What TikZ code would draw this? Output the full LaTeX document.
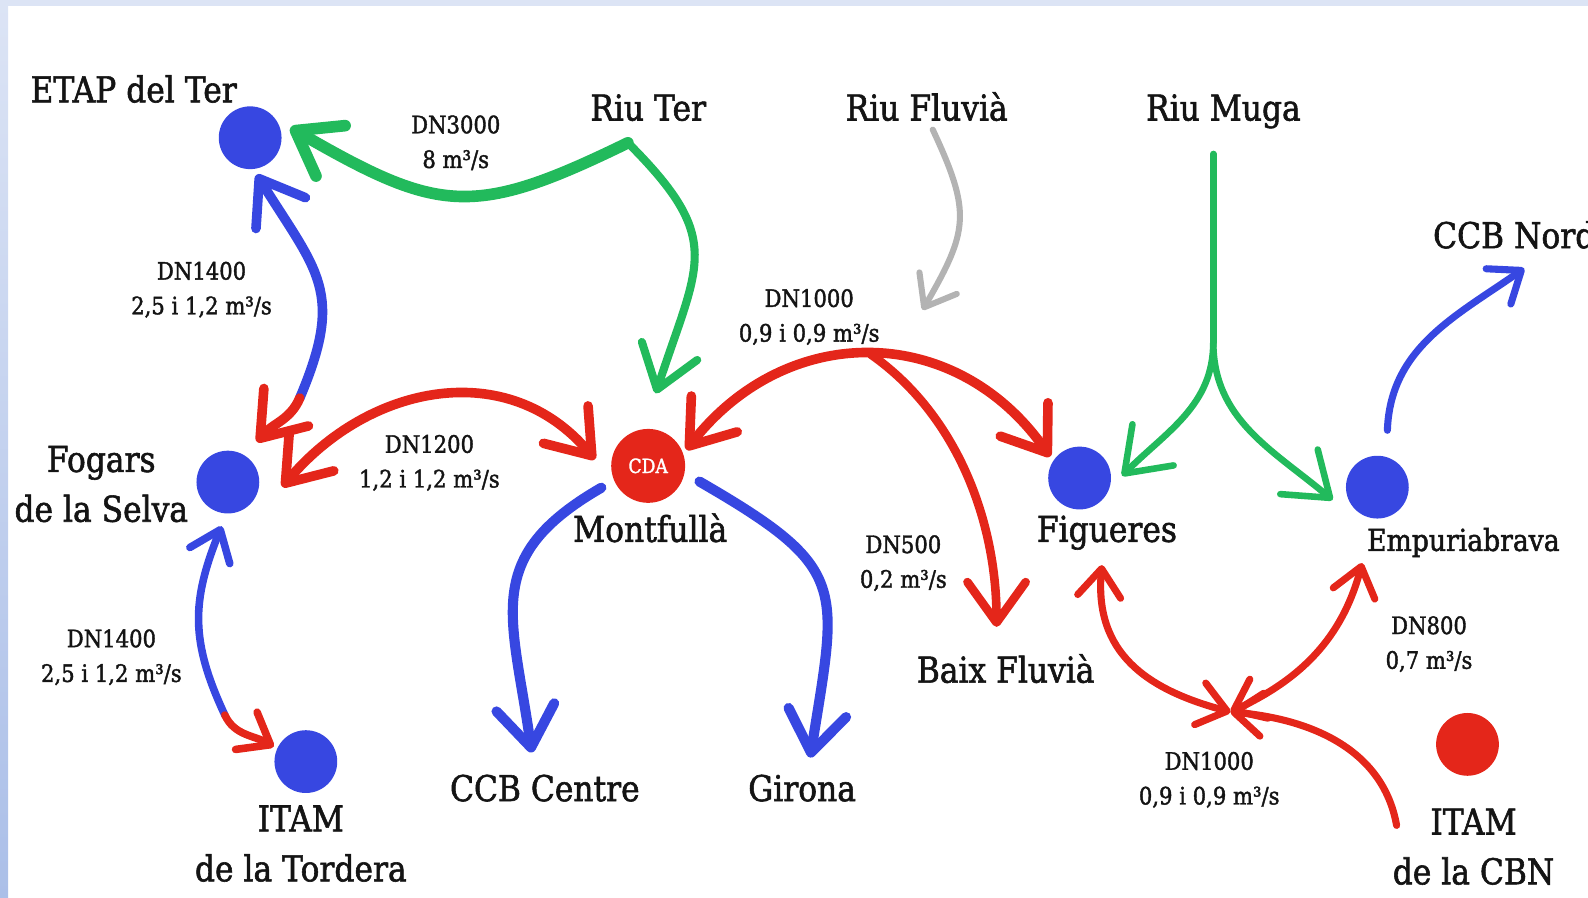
\documentclass[tikz,border=0pt]{standalone}
\usepackage{fontspec}
\setmainfont{DejaVu Serif}[FakeStretch=0.88,FakeBold=1.6]
\usetikzlibrary{arrows.meta,positioning,calc}
\definecolor{cBlue}{HTML}{3747E1}
\definecolor{cRed}{HTML}{E4261A}
\definecolor{cGreen}{HTML}{22BA5C}
\definecolor{cGrayL}{HTML}{B3B3B3}
\definecolor{cInk}{HTML}{141414}
\definecolor{cBandT}{HTML}{DCE4F5}
\definecolor{cBandB}{HTML}{ABBFE8}
\tikzset{
  place/.style={font=\fontsize{20}{28}\selectfont,text=cInk,align=center,inner sep=1pt},
  dn/.style={font=\fontsize{13.5}{19.5}\selectfont,text=cInk,align=center,inner sep=1pt},
  site/.style={circle,fill=#1,minimum size=1.24cm,inner sep=0pt},
  site/.default=cBlue,
  pipe/.style={draw=#1,line width=0.19cm,line cap=round,line join=round},
  barb/.tip={Straight Barb[length=0.8cm,width=1.15cm,round]},
  barbs/.tip={Straight Barb[length=0.55cm,width=0.85cm,round]},
}

\begin{document}
\begin{tikzpicture}[x=0.02cm,y=0.02cm]
  \useasboundingbox (0,0) rectangle (1568,-886);
  \clip (0,0) rectangle (1568,-886);
  % frame bands
  \fill[cBandT] (0,0) rectangle (1568,-6);
  \shade[top color=cBandT,bottom color=cBandB] (0,0) rectangle (8,-886);
  % sites
  \foreach \n/\x/\y/\c in {etap/247/-136/cBlue,fogars/225/-476/cBlue,itamT/302/-752/cBlue,
                           figueres/1066/-472/cBlue,empuria/1360/-481/cBlue,itamC/1449/-735/cRed}{
    \node[site=\c] (\n) at (\x,\y) {};}
  \node[site=cRed,minimum size=1.46cm,text=white,font=\fontsize{11}{13}\selectfont] (cda) at (640,-460) {CDA};
  % place names
  \node[place,anchor=base] (etapT) at (132,-101) {ETAP del Ter};
  \node[place,anchor=base] (riuter) at (640,-119) {Riu Ter};
  \node[place,anchor=base] (fluvia) at (915,-119) {Riu Fluvià};
  \node[place,anchor=base] (muga) at (1208,-119) {Riu Muga};
  \node[place,anchor=base west] (ccbn) at (1413,-245) {CCB Nord};
  \node[place] (fogT) at (100,-478) {Fogars\\de la Selva};
  \node[place,anchor=base] (montT) at (642,-535) {Montfullà};
  \node[place,anchor=base] (figT) at (1093,-535) {Figueres};
  \node[place,anchor=base,font=\fontsize{17}{20}\selectfont] (empT) at (1445,-544) {Empuriabrava};
  \node[place,anchor=base] (baix) at (993,-674) {Baix Fluvià};
  \node[place] (itamTT) at (297,-833) {ITAM\\de la Tordera};
  \node[place,anchor=base] (ccbc) at (538,-791) {CCB Centre};
  \node[place,anchor=base] (girona) at (792,-791) {Girona};
  \node[place] (itamCT) at (1455,-836) {ITAM\\de la CBN};
  % pipe labels
  \node[dn] (l3000) at (450,-141) {DN3000\\8 m³/s};
  \node[dn] (l1400a) at (199,-286) {DN1400\\2,5 i 1,2 m³/s};
  \node[dn] (l1000a) at (799,-313) {DN1000\\0,9 i 0,9 m³/s};
  \node[dn] (l1200) at (424,-457) {DN1200\\1,2 i 1,2 m³/s};
  \node[dn] (l500) at (892,-556) {DN500\\0,2 m³/s};
  \node[dn] (l1400b) at (110,-649) {DN1400\\2,5 i 1,2 m³/s};
  \node[dn] (l800) at (1411,-636) {DN800\\0,7 m³/s};
  \node[dn] (l1000b) at (1194,-770) {DN1000\\0,9 i 0,9 m³/s};
  % free ends
  \coordinate (terx) at (620,-141);
  \coordinate (efx) at (296,-393);
  \coordinate (ftx) at (222,-706);
  \coordinate (baixin) at (984,-619);
  \coordinate (flx) at (921,-128);
  \coordinate (flin) at (911,-306);
  \coordinate (mgx) at (1198,-152);
  \coordinate (mgs) at (1198,-338);
  \coordinate (nordin) at (1505,-265);
  \coordinate (ccbin) at (525,-743);
  \coordinate (girin) at (800,-748);
  \coordinate (jx) at (1215,-703);
  \coordinate (figlo) at (1088,-558);
  \coordinate (emplo) at (1345,-556);
  \coordinate (cbnout) at (1379,-815);
  % Riu Ter
  \draw[pipe=cGreen,line width=0.23cm,-barb] (terx) to[out=206,in=-30,looseness=1.3] ($(etap)+(14:41)$);
  \draw[pipe=cGreen,line width=0.16cm,-barb] (terx) to[out=-45,in=72,looseness=1.4] ($(cda)+(84:72)$);
  % ETAP - Fogars - ITAM
  \draw[pipe=cBlue,barb-] ($(etap)+(-80:37)$) to[out=-58,in=67,looseness=1.3] (efx);
  \draw[pipe=cRed,-barb] (efx) to[out=-113,in=50] ($(fogars)+(54:49)$);
  \draw[pipe=cBlue,line width=0.15cm,barbs-] ($(fogars)+(-98:44)$) to[out=-112,in=115,looseness=1.1] (ftx);
  \draw[pipe=cRed,line width=0.15cm,-barbs] (ftx) to[out=-65,in=150] ($(itamT)+(155:35)$);
  % Fogars - CDA - Figueres
  \draw[pipe=cRed,barb-barb] ($(fogars)+(-5:54)$) to[out=50,in=130,looseness=1.1] ($(cda)+(173:53)$);
  \draw[pipe=cRed,barb-barb] ($(cda)+(23:41)$) to[out=52,in=125,looseness=1.15] coordinate[pos=0.5] (bfx) ($(figueres)+(144:36)$);
  \draw[pipe=cRed,line width=0.17cm,-barb] (bfx) to[out=-35,in=90,looseness=0.9] (baixin);
  % CDA outlets
  \draw[pipe=cBlue,line width=0.2cm,-barb] ($(cda)+(205:51)$) to[out=-150,in=98,looseness=1.3] (ccbin);
  \draw[pipe=cBlue,line width=0.2cm,-barb] ($(cda)+(-17:53)$) to[out=-30,in=81,looseness=1.5] (girin);
  % Fluvia
  \draw[pipe=cGrayL,line width=0.12cm,-barbs] (flx) to[out=-65,in=60,looseness=1.3] (flin);
  % Muga
  \draw[pipe=cGreen,line width=0.13cm] (mgx) -- (mgs);
  \draw[pipe=cGreen,line width=0.13cm,-barb] (mgs) to[out=-90,in=45] ($(figueres)+(3:42)$);
  \draw[pipe=cGreen,line width=0.13cm,-barb] (mgs) to[out=-90,in=140] ($(empuria)+(196:46)$);
  % Empuriabrava - CCB Nord
  \draw[pipe=cBlue,line width=0.14cm,-barbs] ($(empuria)+(80:57)$) to[out=88,in=215] (nordin);
  % north ring
  \draw[pipe=cRed,line width=0.14cm,barbs-barbs] (figlo) to[out=-95,in=165,looseness=1.15] (jx);
  \draw[pipe=cRed,line width=0.14cm,barbs-barbs] (jx) to[out=25,in=-105] (emplo);
  \draw[pipe=cRed,line width=0.14cm,-barbs] (cbnout) to[out=100,in=-5] (jx);
\end{tikzpicture}
\end{document}
